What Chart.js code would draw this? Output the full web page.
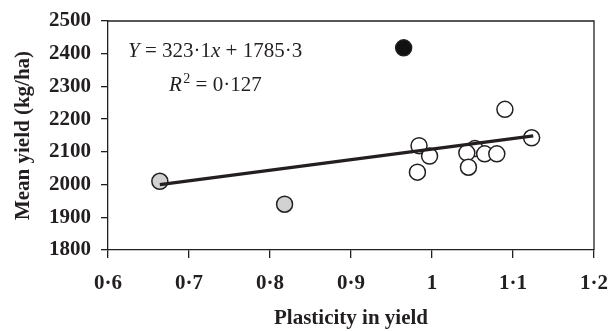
<!DOCTYPE html>
<html>
<head>
<meta charset="utf-8">
<script src="https://cdn.jsdelivr.net/npm/chart.js@4.4.1/dist/chart.umd.min.js"></script>
<style>
  html, body { margin: 0; padding: 0; background: #fff; }
  canvas { display: block; }
</style>
</head>
<body>
<canvas id="plasticityChart" width="609" height="331"></canvas>
<script>
// --- DATA ---
const xTicks = [0.6, 0.7, 0.8, 0.9, 1, 1.1, 1.2];
const xTickLabels = ['0·6', '0·7', '0·8', '0·9', '1', '1·1', '1·2'];
const yTicks = [1800, 1900, 2000, 2100, 2200, 2300, 2400, 2500];

const blackX = [0.965];
const blackY = [2418];

const greyX = [0.664, 0.818];
const greyY = [2010, 1940];

const openX = [0.982, 0.984, 0.997, 1.053, 1.043, 1.045, 1.065, 1.080, 1.090, 1.123];
const openY = [2038, 2119, 2087, 2110, 2097, 2053, 2094, 2094, 2230, 2143];

const fitX = [0.664, 1.125];
const fitY = [2000, 2149];

const toPoints = (xs, ys) => xs.map((x, i) => ({ x: x, y: ys[i] }));

const ink = '#231f20';
const serifBold = { family: '"Liberation Serif", "DejaVu Serif", serif', size: 21, weight: 'bold' };

// --- FRAME + EQUATION ---
const framePlugin = {
    id: 'frame',
    afterDraw(chart) {
        const { ctx, chartArea: a } = chart;
        ctx.save();
        ctx.strokeStyle = ink;
        ctx.lineWidth = 1.3;
        ctx.beginPath();
        ctx.moveTo(a.left, a.top);
        ctx.lineTo(a.right, a.top);
        ctx.lineTo(a.right, a.bottom);
        ctx.stroke();

        // equation text
        ctx.fillStyle = ink;
        ctx.textBaseline = 'alphabetic';
        const runs = (x, y, parts) => {
            parts.forEach(p => {
                ctx.font = (p.i ? 'italic ' : '') + (p.s || 21) + 'px "Liberation Serif", serif';
                ctx.fillText(p.t, x, y - (p.up || 0));
                x += ctx.measureText(p.t).width;
            });
        };
        runs(a.left + 20, 57, [
            { t: 'Y', i: true }, { t: ' = 323·1' }, { t: 'x', i: true }, { t: ' + 1785·3' }
        ]);
        runs(a.left + 61, 91, [
            { t: 'R', i: true }, { t: ' ', s: 6 }, { t: '2', s: 14, up: 8 }, { t: ' = 0·127' }
        ]);
        ctx.restore();
    }
};

new Chart(document.getElementById('plasticityChart').getContext('2d'), {
    type: 'scatter',
    data: {
        datasets: [
            {
                type: 'line',
                data: toPoints(fitX, fitY),
                borderColor: ink,
                borderWidth: 3.2,
                pointRadius: 0,
                fill: false
            },
            {
                data: toPoints(blackX, blackY),
                backgroundColor: '#111',
                borderColor: ink,
                borderWidth: 1.5,
                pointRadius: 8
            },
            {
                data: toPoints(greyX, greyY),
                backgroundColor: '#d2d2d2',
                borderColor: ink,
                borderWidth: 1.5,
                pointRadius: 8
            },
            {
                data: toPoints(openX, openY),
                backgroundColor: '#fff',
                borderColor: ink,
                borderWidth: 1.5,
                pointRadius: 8
            }
        ]
    },
    options: {
        responsive: false,
        animation: false,
        devicePixelRatio: 1,
        layout: { padding: { left: 0, right: 15, top: 21, bottom: 0 } },
        plugins: { legend: { display: false }, tooltip: { enabled: false } },
        scales: {
            x: {
                type: 'linear',
                min: 0.6,
                max: 1.2,
                afterBuildTicks: scale => { scale.ticks = xTicks.map(v => ({ value: v })); },
                afterFit: scale => {
                    scale.height = 81;
                    scale.paddingLeft = 0;
                    scale.paddingRight = 0;
                },
                border: { color: ink, width: 1.3 },
                grid: { drawOnChartArea: false, color: ink, lineWidth: 1.3, tickLength: 8 },
                ticks: {
                    color: ink,
                    font: serifBold,
                    padding: 13,
                    maxRotation: 0,
                    callback: (v, i) => xTickLabels[i]
                },
                title: {
                    display: true,
                    text: 'Plasticity in yield',
                    color: ink,
                    font: serifBold,
                    padding: { top: 0, bottom: 0 }
                }
            },
            y: {
                type: 'linear',
                min: 1800,
                max: 2500,
                afterBuildTicks: scale => { scale.ticks = yTicks.map(v => ({ value: v })); },
                afterFit: scale => {
                    scale.width = 108;
                    scale.paddingTop = 0;
                    scale.paddingBottom = 0;
                },
                border: { color: ink, width: 1.3 },
                grid: { drawOnChartArea: false, color: ink, lineWidth: 1.3, tickLength: 7 },
                ticks: {
                    color: ink,
                    font: serifBold,
                    padding: 10,
                    callback: v => String(v)
                },
                title: {
                    display: true,
                    text: 'Mean yield (kg/ha)',
                    color: ink,
                    font: serifBold,
                    padding: { top: 11, bottom: 0 }
                }
            }
        }
    },
    plugins: [framePlugin]
});
</script>
</body>
</html>
